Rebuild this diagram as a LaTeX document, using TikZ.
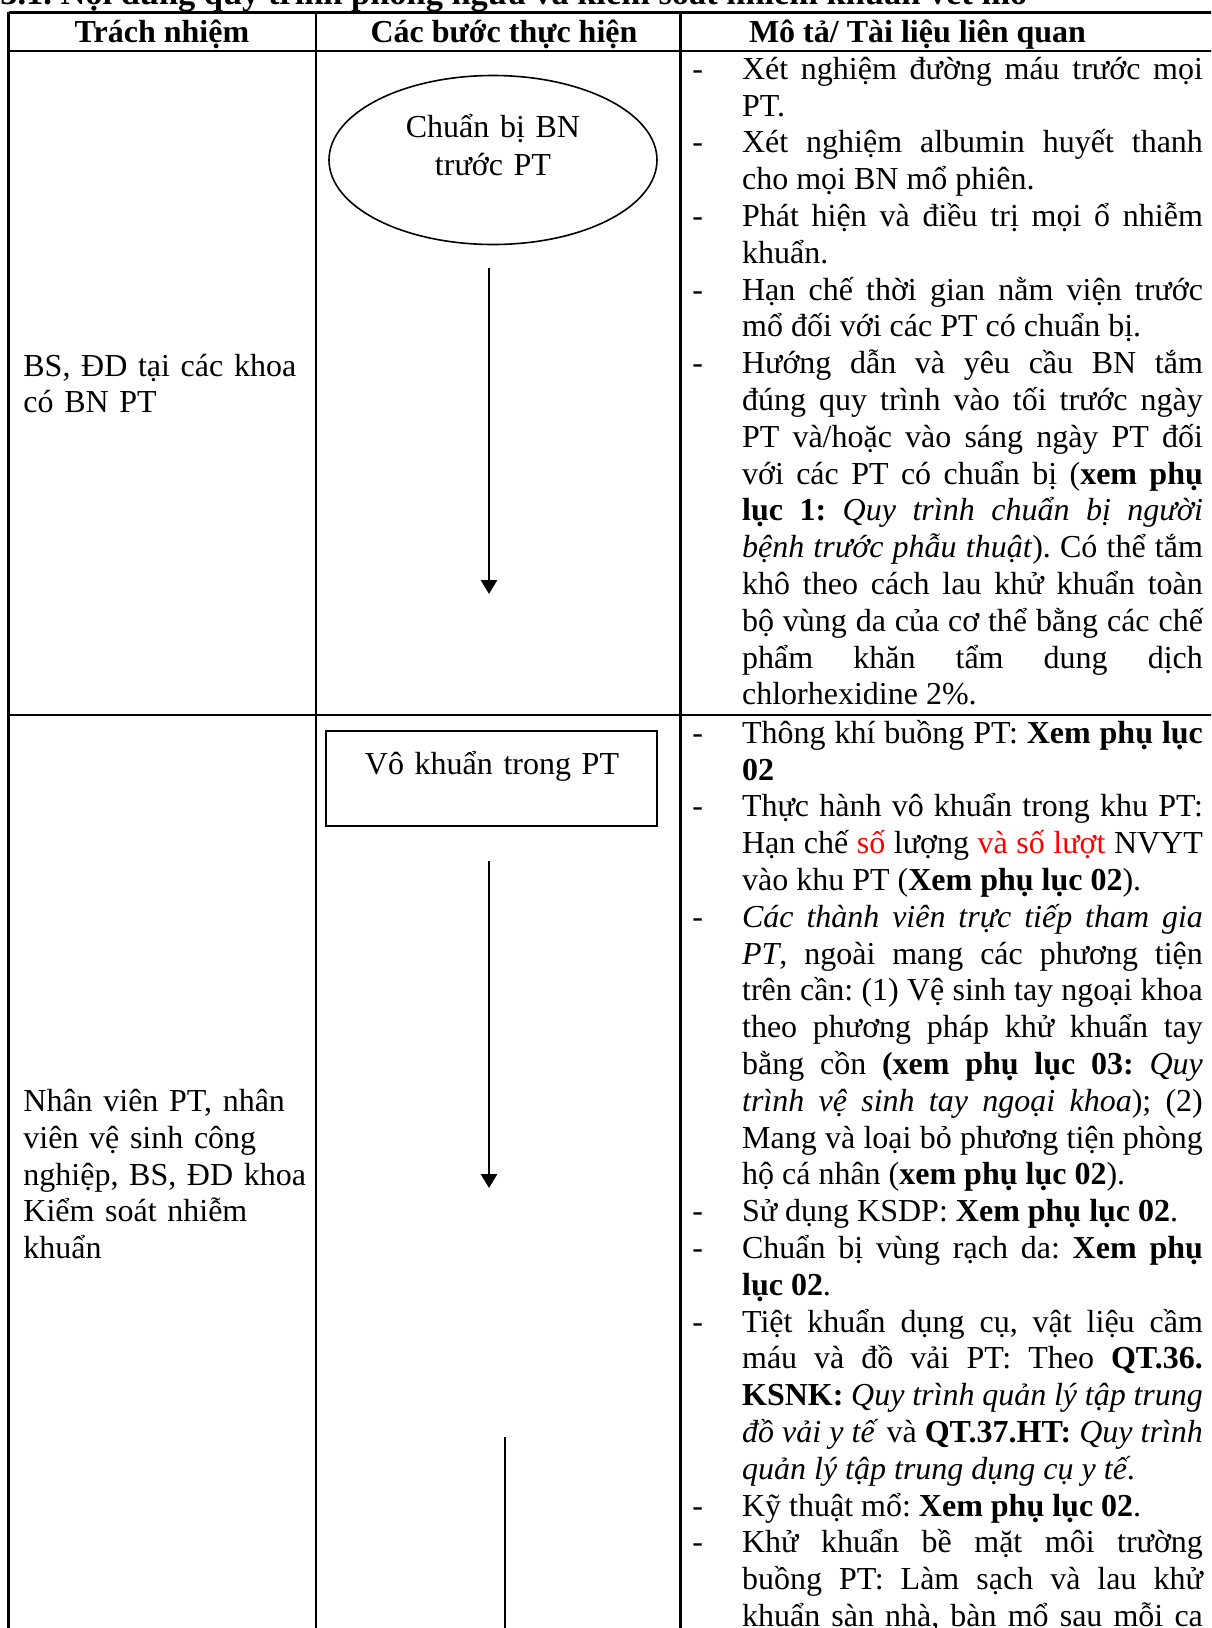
\documentclass[tikz,border=0pt]{standalone}
\usepackage{fontspec}
\setmainfont{Liberation Serif}
\usetikzlibrary{shapes.geometric,arrows.meta}
\tolerance=10000
\hbadness=10000
\hyphenpenalty=10000
\exhyphenpenalty=10000
\frenchspacing
\newcommand{\ditem}{\noindent\hangindent=24.85pt\hangafter=1\hbox to 24.85pt{-\hfil}\ignorespaces}
\begin{document}
\begin{tikzpicture}[x=0.5pt, y=-0.5pt,
    every node/.style={inner sep=0pt, font=\fontsize{16}{18.4}\selectfont},
    head/.style={anchor=base, font=\fontsize{16}{18.4}\selectfont\bfseries},
    resp/.style={anchor=base west, text width=145pt, align=left},
    desc/.style={anchor=base west, text width=255.25pt, align=justify},
    stepoval/.style={ellipse, draw, line width=0.8pt, minimum width=164pt, minimum height=84.5pt},
    stepbox/.style={rectangle, draw, line width=0.9pt, minimum width=165.5pt, minimum height=47.5pt},
    steptext/.style={anchor=base, text width=160pt, align=center},
    flow/.style={line width=1.35pt, -{Triangle[width=8pt,length=7pt]}},
    grid/.style={line width=1.2pt}]
    \useasboundingbox (0,0) rectangle (1211,1628);
    \clip (0,0) rectangle (1211,1628);
    \node (title) [anchor=base west, font=\fontsize{17.2}{20}\selectfont\bfseries] at (0,4.5) {3.1. Nội dung quy trình phòng ngừa và kiểm soát nhiễm khuẩn vết mổ};
    % table
    \draw[grid] (8.5,12.3) -- (1215,12.3);
    \draw[grid] (8.5,50.7) -- (1215,50.7);
    \draw[grid] (8.5,715) -- (1215,715);
    \draw[grid] (8.5,12.3) -- (8.5,1640);
    \draw[grid] (316,12.3) -- (316,1640);
    \draw[grid] (680.5,12.3) -- (680.5,1640);
    \node (hResp) [head] at (162,42) {Trách nhiệm};
    \node (hSteps) [head] at (504,42) {Các bước thực hiện};
    \node (hDesc) [head] at (917.5,42) {Mô tả/ Tài liệu liên quan};
    % row 1
    \node (resp1) [resp] at (23,376) {BS, ĐD tại các khoa\\có BN PT};
    \node (prep) [stepoval] at (493,160) {};
    \node (prepT) [steptext] at (493,137) {Chuẩn bị BN\\[1pt]trước PT};
    \coordinate (a1s) at (489,268);
    \coordinate (a1e) at (489,594);
    \draw[flow] (a1s) -- (a1e);
    \node (desc1) [desc] at (692,79.3) {\ditem Xét nghiệm đường máu trước mọi\linebreak PT.\par
      \ditem Xét nghiệm albumin huyết thanh\linebreak cho mọi BN mổ phiên.\par
      \ditem Phát hiện và điều trị mọi ổ nhiễm\linebreak khuẩn.\par
      \ditem Hạn chế thời gian nằm viện trước\linebreak mổ đối với các PT có chuẩn bị.\par
      \ditem Hướng dẫn và yêu cầu BN tắm\linebreak đúng quy trình vào tối trước ngày\linebreak PT và/hoặc vào sáng ngày PT đối\linebreak với các PT có chuẩn bị (\textbf{xem phụ\linebreak lục 1:} \textit{Quy trình chuẩn bị người\linebreak bệnh trước phẫu thuật}). Có thể tắm\linebreak khô theo cách lau khử khuẩn toàn\linebreak bộ vùng da của cơ thể bằng các chế\linebreak phẩm khăn tẩm dung dịch\linebreak chlorhexidine 2\%.\par};
    % row 2
    \node (resp2) [resp] at (23,1111.5) {Nhân viên PT, nhân\\viên vệ sinh công\\nghiệp, BS, ĐD khoa\\Kiểm soát nhiễm\\khuẩn};
    \node (asep) [stepbox] at (491.5,778.5) {};
    \node (asepT) [steptext] at (492,774) {Vô khuẩn trong PT};
    \coordinate (a2s) at (489,861);
    \coordinate (a2e) at (489,1188);
    \draw[flow] (a2s) -- (a2e);
    \coordinate (a3s) at (505,1437);
    \coordinate (a3e) at (505,1640);
    \draw[line width=1.35pt] (a3s) -- (a3e);
    \node (desc2) [desc] at (692,743.3) {\ditem Thông khí buồng PT: \textbf{Xem phụ lục\linebreak 02}\par
      \ditem Thực hành vô khuẩn trong khu PT:\linebreak Hạn chế \textcolor{red}{số} lượng \textcolor{red}{và số lượt} NVYT\linebreak vào khu PT (\textbf{Xem phụ lục 02}).\par
      \ditem \textit{Các thành viên trực tiếp tham gia\linebreak PT}, ngoài mang các phương tiện\linebreak trên cần: (1) Vệ sinh tay ngoại khoa\linebreak theo phương pháp khử khuẩn tay\linebreak bằng cồn \textbf{(xem phụ lục 03:} \textit{Quy\linebreak trình vệ sinh tay ngoại khoa}); (2)\linebreak Mang và loại bỏ phương tiện phòng\linebreak hộ cá nhân (\textbf{xem phụ lục 02}).\par
      \ditem Sử dụng KSDP: \textbf{Xem phụ lục 02}.\par
      \ditem Chuẩn bị vùng rạch da: \textbf{Xem phụ\linebreak lục 02}.\par
      \ditem Tiệt khuẩn dụng cụ, vật liệu cầm\linebreak máu và đồ vải PT: Theo \textbf{QT.36.\linebreak KSNK:} \textit{Quy trình quản lý tập trung\linebreak đồ vải y tế} và \textbf{QT.37.HT:} \textit{Quy trình\linebreak quản lý tập trung dụng cụ y tế}.\par
      \ditem Kỹ thuật mổ: \textbf{Xem phụ lục 02}.\par
      \ditem Khử khuẩn bề mặt môi trường\linebreak buồng PT: Làm sạch và lau khử\linebreak khuẩn sàn nhà, bàn mổ sau mỗi ca\linebreak\mbox{}\par};
  \end{tikzpicture}
\end{document}
